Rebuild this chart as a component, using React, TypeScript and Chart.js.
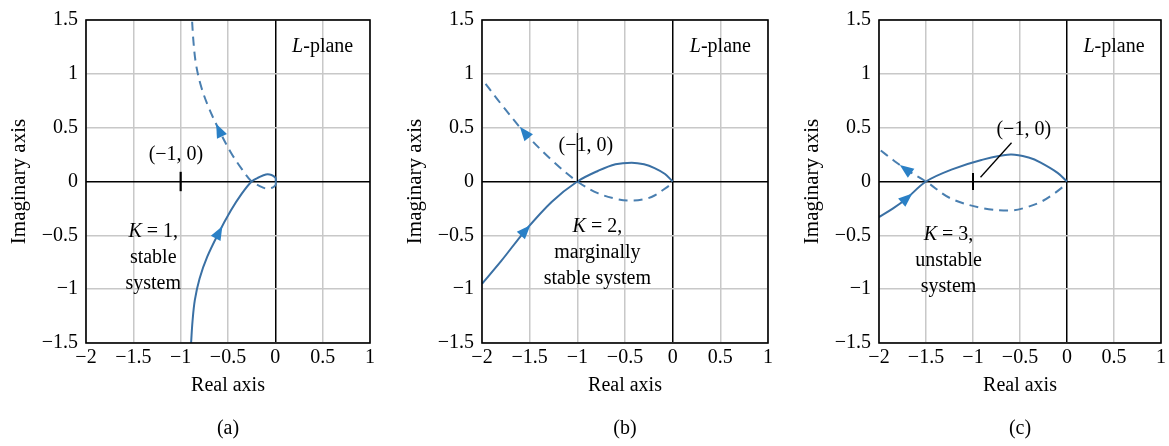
import React, { useEffect, useRef } from 'react';
import { Chart, registerables } from 'chart.js';

Chart.register(...registerables);

// ---------- data ----------
const xTicks = [-2, -1.5, -1, -0.5, 0, 0.5, 1];
const yTicks = [-1.5, -1, -0.5, 0, 0.5, 1, 1.5];

// (a) K = 1
const aSolidRe = [-0.89, -0.875, -0.85, -0.8, -0.72, -0.6, -0.47, -0.36, -0.25, -0.17, -0.1, -0.04, 0.0, 0.005, 0];
const aSolidIm = [-1.5, -1.3, -1.1, -0.9, -0.7, -0.48, -0.27, -0.12, 0, 0.04, 0.065, 0.06, 0.035, 0.01, 0];
const aDashRe = [0, 0.005, 0.0, -0.04, -0.1, -0.17, -0.25, -0.35, -0.47, -0.59, -0.71, -0.79, -0.84, -0.865, -0.88];
const aDashIm = [0, -0.01, -0.035, -0.06, -0.065, -0.04, 0, 0.11, 0.27, 0.47, 0.7, 0.9, 1.1, 1.3, 1.5];

// (b) K = 2
const bSolidRe = [-2, -1.8, -1.55, -1.27, -1.0, -0.78, -0.6, -0.43, -0.3, -0.19, -0.08, 0];
const bSolidIm = [-0.95, -0.74, -0.46, -0.19, 0, 0.1, 0.16, 0.175, 0.16, 0.125, 0.07, 0];
const bDashRe = [-0.04, -0.19, -0.3, -0.45, -0.6, -0.78, -1.0, -1.27, -1.55, -1.8, -2];
const bDashIm = [-0.04, -0.13, -0.165, -0.177, -0.16, -0.11, 0, 0.2, 0.45, 0.72, 0.95];

// (c) K = 3
const cSolidRe = [-2, -1.85, -1.71, -1.5, -1.23, -0.91, -0.6, -0.4, -0.28, -0.1, 0];
const cSolidIm = [-0.33, -0.25, -0.16, 0, 0.11, 0.2, 0.25, 0.22, 0.175, 0.08, 0];
const cDashRe = [-0.05, -0.15, -0.28, -0.45, -0.6, -0.88, -1.23, -1.5, -1.71, -1.85, -2];
const cDashIm = [-0.055, -0.12, -0.19, -0.245, -0.27, -0.25, -0.16, 0, 0.11, 0.2, 0.3];

// arrow positions: index of the curve point where the arrow head sits
const aArrows = { solid: [5], dash: [9] };
const bArrows = { solid: [2], dash: [8] };
const cArrows = { solid: [2], dash: [8] };

const kLabels = ['K = 1,', 'K = 2,', 'K = 3,'];
const kLines = [['stable', 'system'], ['marginally', 'stable system'], ['unstable', 'system']];
const captions = ['(a)', '(b)', '(c)'];

// ---------- styling / layout ----------
const FONT = '"Liberation Serif", "Times New Roman", serif';
const SOLID = '#3a70a4';
const DASH = '#4a7fb0';
const ARROW = '#2a80c6';

type Panel = {
  left: number; width: number; padRight: number;
  solidRe: number[]; solidIm: number[]; dashRe: number[]; dashIm: number[];
  arrows: { solid: number[]; dash: number[] };
  k: string; kRest: string[]; caption: string;
  kPos: [number, number]; ptPos: [number, number];
  extra: (ctx: CanvasRenderingContext2D, px: (v: number) => number, py: (v: number) => number) => void;
};

const panels: Panel[] = [
  {
    left: 0, width: 390, padRight: 20,
    solidRe: aSolidRe, solidIm: aSolidIm, dashRe: aDashRe, dashIm: aDashIm,
    arrows: aArrows, k: kLabels[0], kRest: kLines[0], caption: captions[0],
    kPos: [-1.29, -0.47], ptPos: [-1.05, 0.25],
    extra: (ctx, px, py) => {
      ctx.lineWidth = 2.2;
      ctx.beginPath(); ctx.moveTo(px(-1), py(0.09)); ctx.lineTo(px(-1), py(-0.09)); ctx.stroke();
    },
  },
  {
    left: 396, width: 390, padRight: 18,
    solidRe: bSolidRe, solidIm: bSolidIm, dashRe: bDashRe, dashIm: bDashIm,
    arrows: bArrows, k: kLabels[1], kRest: kLines[1], caption: captions[1],
    kPos: [-0.79, -0.42], ptPos: [-0.91, 0.33],
    extra: (ctx, px, py) => {
      ctx.lineWidth = 1.2;
      ctx.beginPath(); ctx.moveTo(px(-1), py(0)); ctx.lineTo(px(-1), py(0.45)); ctx.stroke();
    },
  },
  {
    left: 793, width: 376, padRight: 7,
    solidRe: cSolidRe, solidIm: cSolidIm, dashRe: cDashRe, dashIm: cDashIm,
    arrows: cArrows, k: kLabels[2], kRest: kLines[2], caption: captions[2],
    kPos: [-1.26, -0.49], ptPos: [-0.46, 0.48],
    extra: (ctx, px, py) => {
      ctx.lineWidth = 2;
      ctx.beginPath(); ctx.moveTo(px(-1), py(0.08)); ctx.lineTo(px(-1), py(-0.08)); ctx.stroke();
      ctx.lineWidth = 1.3;
      ctx.beginPath(); ctx.moveTo(px(-0.92), py(0.04)); ctx.lineTo(px(-0.59), py(0.36)); ctx.stroke();
    },
  },
];

function fmt(v: number): string {
  const r = Math.round(v * 10) / 10;
  return r < 0 ? '\u2212' + String(Math.abs(r)) : String(r);
}

function drawMixed(ctx: CanvasRenderingContext2D, italic: string, rest: string, cx: number, cy: number, size: number) {
  ctx.font = `italic ${size}px ${FONT}`;
  const w1 = ctx.measureText(italic).width;
  ctx.font = `${size}px ${FONT}`;
  const w2 = ctx.measureText(rest).width;
  const x = cx - (w1 + w2) / 2;
  ctx.textAlign = 'left';
  ctx.textBaseline = 'middle';
  ctx.font = `italic ${size}px ${FONT}`;
  ctx.fillText(italic, x, cy);
  ctx.font = `${size}px ${FONT}`;
  ctx.fillText(rest, x + w1, cy);
}

function makeDeco(p: Panel) {
  return {
    id: 'deco',
    afterDatasetsDraw(chart: any) {
      const { ctx, chartArea: a, scales } = chart;
      const sx = scales.x, sy = scales.y;
      const px = (v: number) => sx.getPixelForValue(v);
      const py = (v: number) => sy.getPixelForValue(v);
      ctx.save();
      // frame
      ctx.strokeStyle = '#000';
      ctx.lineWidth = 1.6;
      ctx.strokeRect(a.left, a.top, a.right - a.left, a.bottom - a.top);

      // arrow heads
      const drawArrows = (di: number, idx: number[]) => {
        const pts = chart.getDatasetMeta(di).data;
        idx.forEach((i) => {
          const p0 = pts[i], p1 = pts[Math.min(i + 1, pts.length - 1)];
          const ang = Math.atan2(p1.y - p0.y, p1.x - p0.x);
          ctx.save();
          ctx.translate(p0.x, p0.y);
          ctx.rotate(ang);
          ctx.fillStyle = ARROW;
          ctx.beginPath();
          ctx.moveTo(8, 0);
          ctx.lineTo(-6, -5.5);
          ctx.lineTo(-6, 5.5);
          ctx.closePath();
          ctx.fill();
          ctx.restore();
        });
      };
      drawArrows(0, p.arrows.solid);
      drawArrows(1, p.arrows.dash);

      ctx.strokeStyle = '#000';
      p.extra(ctx, px, py);

      ctx.fillStyle = '#000';
      // L-plane
      drawMixed(ctx, 'L', '-plane', px(0.5), py(1.25), 20);
      // (-1, 0)
      ctx.font = `20px ${FONT}`;
      ctx.textAlign = 'center';
      ctx.textBaseline = 'middle';
      ctx.fillText('(\u22121, 0)', px(p.ptPos[0]), py(p.ptPos[1]));
      // K label
      const kx = px(p.kPos[0]);
      const ky = py(p.kPos[1]);
      drawMixed(ctx, 'K', p.k.slice(1), kx, ky, 20);
      ctx.font = `20px ${FONT}`;
      ctx.textAlign = 'center';
      p.kRest.forEach((t, i) => ctx.fillText(t, kx, ky + 26 * (i + 1)));

      // axis titles
      const cx = (a.left + a.right) / 2;
      ctx.fillText('Real axis', cx, a.bottom + 43);
      ctx.fillText(p.caption, cx, a.bottom + 86);
      ctx.save();
      ctx.translate(a.left - 67, (a.top + a.bottom) / 2);
      ctx.rotate(-Math.PI / 2);
      ctx.font = `21px ${FONT}`;
      ctx.fillText('Imaginary axis', 0, 0);
      ctx.restore();
      ctx.restore();
    },
  };
}

function PanelChart({ p }: { p: Panel }) {
  const ref = useRef<HTMLCanvasElement>(null);
  useEffect(() => {
    if (!ref.current) return;
    const chart = new Chart(ref.current, {
      type: 'scatter',
      data: {
        datasets: [
          {
            data: p.solidRe.map((r, i) => ({ x: r, y: p.solidIm[i] })),
            showLine: true, borderColor: SOLID, borderWidth: 2, pointRadius: 0, tension: 0.35, fill: false,
          },
          {
            data: p.dashRe.map((r, i) => ({ x: r, y: p.dashIm[i] })),
            showLine: true, borderColor: DASH, borderWidth: 2, borderDash: [9, 6], pointRadius: 0, tension: 0.35, fill: false,
          },
        ],
      },
      options: {
        animation: false,
        responsive: false,
        maintainAspectRatio: false,
        events: [],
        layout: { padding: { left: 0, top: 15, right: p.padRight, bottom: 0 } },
        plugins: { legend: { display: false }, tooltip: { enabled: false } },
        scales: {
          x: {
            type: 'linear', min: -2, max: 1,
            afterBuildTicks: (s: any) => { s.ticks = xTicks.map((v) => ({ value: v })); },
            afterFit: (s: any) => { s.height = 103; },
            border: { display: false },
            grid: {
              drawTicks: false,
              color: (c: any) => (c.tick && c.tick.value === 0 ? '#000' : '#c8c8c8'),
              lineWidth: 1.5,
            },
            ticks: {
              autoSkip: false, maxRotation: 0, padding: 3, color: '#000',
              font: { family: FONT, size: 20 },
              callback: (v: any) => fmt(Number(v)),
            },
          },
          y: {
            type: 'linear', min: -1.5, max: 1.5,
            afterBuildTicks: (s: any) => { s.ticks = yTicks.map((v) => ({ value: v })); },
            afterFit: (s: any) => { s.width = 86; },
            border: { display: false },
            grid: {
              drawTicks: false,
              color: (c: any) => (c.tick && c.tick.value === 0 ? '#000' : '#c8c8c8'),
              lineWidth: 1.5,
            },
            ticks: {
              autoSkip: false, padding: 8, color: '#000',
              font: { family: FONT, size: 20 },
              callback: (v: any) => fmt(Number(v)),
            },
          },
        },
      },
      plugins: [makeDeco(p)],
    } as any);
    return () => chart.destroy();
  }, [p]);
  return (
    <canvas
      ref={ref}
      width={p.width}
      height={446}
      style={{ position: 'absolute', left: p.left, top: 0, width: p.width, height: 446 }}
    />
  );
}

export default function App() {
  return (
    <div style={{ position: 'absolute', left: 0, top: 0, width: 1169, height: 446, background: '#fff' }}>
      {panels.map((p, i) => (
        <PanelChart key={i} p={p} />
      ))}
    </div>
  );
}
